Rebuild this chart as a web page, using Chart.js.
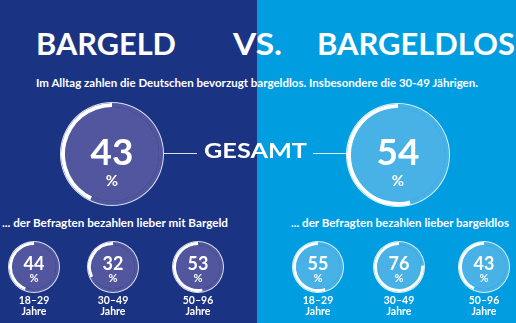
<!DOCTYPE html>
<html>
<head>
<meta charset="utf-8">
<script src="https://cdn.jsdelivr.net/npm/chart.js@4"></script>
<style>
  html, body { margin: 0; padding: 0; }
  body { width: 516px; height: 323px; position: relative; overflow: hidden; font-family: Lato, sans-serif; font-weight: bold; color: #fff; }
  .half { position: absolute; top: 0; height: 323px; }
  .t { position: absolute; white-space: nowrap; line-height: 0; }
  canvas { position: absolute; }
  .rule { position: absolute; height: 1px; background: rgba(255,255,255,0.85); }
</style>
</head>
<body>
<div class="half" style="left:0;width:257px;background:#1b3383"></div>
<div class="half" style="left:257px;width:259px;background:#009ee0"></div>
<div class="rule" style="left:164px;top:153px;width:33px"></div>
<div class="rule" style="left:313px;top:153px;width:34px"></div>

<script>
var groups = ['Bargeld', 'Bargeldlos'];
var totalValues = [43, 54];
var ageLabels = ['18–29', '30–49', '50–96'];
var cashByAge = [44, 32, 53];
var cashlessByAge = [55, 76, 43];

var fills = ['#52569e', '#48b2e6'];

// text helper: x is left/center, y is baseline, w = target width to squeeze into
function label(text, x, y, size, align, w) {
    var el = document.createElement('div');
    el.className = 't';
    el.textContent = text;
    el.style.fontSize = size + 'px';
    el.style.top = (y - size * 0.387) + 'px';
    document.body.appendChild(el);
    var width = el.getBoundingClientRect().width;
    var sx = 1;
    if (w) sx = w / width;
    if (align === 'center') {
        el.style.left = (x - width * sx / 2) + 'px';
    } else {
        el.style.left = x + 'px';
    }
    el.style.transformOrigin = 'left center';
    el.style.transform = 'scaleX(' + sx + ')';
    return el;
}

function gauge(value, cx, cy, r, thick, fill) {
    var c = document.createElement('canvas');
    c.width = 2 * r;
    c.height = 2 * r;
    c.style.left = (cx - r) + 'px';
    c.style.top = (cy - r) + 'px';
    document.body.appendChild(c);
    new Chart(c.getContext('2d'), {
        type: 'doughnut',
        data: {
            labels: ['Rest', 'Anteil'],
            datasets: [
                { data: [100], backgroundColor: ['rgba(255,255,255,0.85)'], weight: 1 },
                { data: [100 - value, value], backgroundColor: [fill, '#ffffff'], weight: thick - 1 },
                { data: [100], backgroundColor: [fill], weight: r - thick }
            ]
        },
        options: {
            responsive: false,
            animation: false,
            events: [],
            cutout: 0,
            layout: { padding: 0 },
            elements: { arc: { borderWidth: 0, hoverBorderWidth: 0, hoverOffset: 0 } },
            plugins: { legend: { display: false }, tooltip: { enabled: false } }
        }
    });
}

// headline
label('BARGELD', 36, 55, 30, 'left', 140);
label('VS.', 233, 55, 30, 'left', 49);
label('BARGELDLOS', 317, 55, 30, 'left', 198);
label('Im Alltag zahlen die Deutschen bevorzugt bargeldlos. Insbesondere die 30-49 Jährigen.', 36, 88, 12, 'left', 442);

// totals
var mainX = [112, 398];
var mainY = [154, 155];
for (var i = 0; i < groups.length; i++) {
    gauge(totalValues[i], mainX[i], mainY[i], 52, 5, fills[i]);
    label(String(totalValues[i]), mainX[i], 165, 37, 'center');
    label('%', mainX[i], 186, 15, 'center');
}
label('GESAMT', 204, 158, 21, 'left', 103);

// age groups
label('... der Befragten bezahlen lieber mit Bargeld', 2, 227, 11, 'left', 226);
label('... der Befragten bezahlen lieber bargeldlos', 291, 227, 11, 'left', 218);

var smallX = [[34, 113, 198], [318, 399, 484]];
var byAge = [cashByAge, cashlessByAge];
for (var g = 0; g < 2; g++) {
    for (var j = 0; j < ageLabels.length; j++) {
        var x = smallX[g][j];
        gauge(byAge[g][j], x, 267, 26, 4, fills[g]);
        label(String(byAge[g][j]), x, 270, 18, 'center');
        label('%', x, 282, 11, 'center');
        label(ageLabels[j], x, 304, 10.5, 'center');
        label('Jahre', x, 315, 10.5, 'center');
    }
}
</script>
</body>
</html>
